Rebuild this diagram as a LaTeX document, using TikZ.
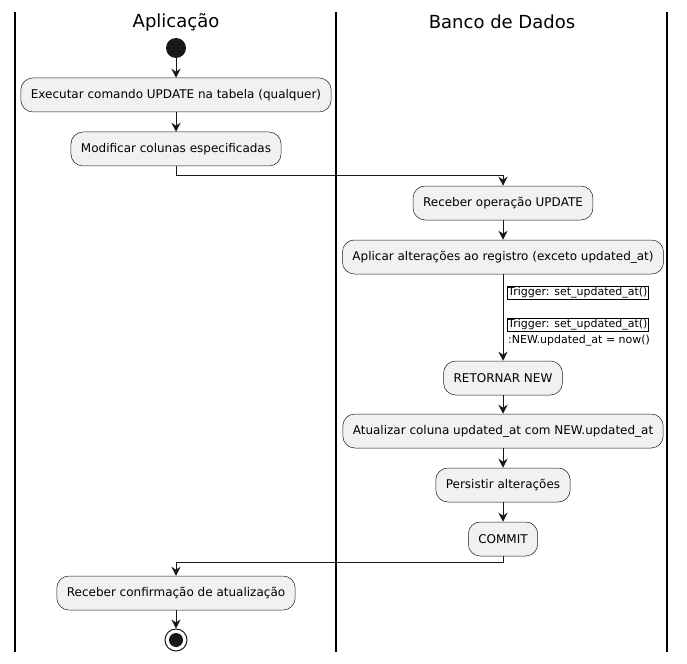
\documentclass[tikz,border=0pt]{standalone}
\usepackage{fontspec}
\setmainfont{DejaVu Sans}
\usetikzlibrary{arrows.meta,shapes}
\definecolor{actfill}{HTML}{F1F1F1}
\definecolor{actline}{HTML}{181818}
\newcommand{\laneTop}{12}
\newcommand{\laneBot}{652}

\begin{document}
\begin{tikzpicture}[x=1pt,y=-1pt]
            %\draw[help lines] (0,0) grid (687,663);
            \tikzset{action/.style = {draw=actline, fill=actfill, rounded corners=12pt, line width=0.5pt,
                minimum height=34pt, inner xsep=10pt, font=\fontsize{12}{14}\selectfont}}
            \tikzset{flow/.style = {-{Stealth[length=9pt,width=9pt,inset=3pt]}, line width=1pt, draw=actline}}
            \tikzset{lane/.style = {line width=1.2pt, draw=black}}
            \tikzset{lanetitle/.style = {font=\fontsize{18}{21}\selectfont}}
            \tikzset{trig/.style = {anchor=west, inner sep=1pt, font=\fontsize{11}{13}\selectfont}}
            \useasboundingbox (0,0) rectangle (687,663);
            % swimlanes
            \draw[lane] (15,\laneTop) -- (15,\laneBot);
            \draw[lane] (336,\laneTop) -- (336,\laneBot);
            \draw[lane] (667,\laneTop) -- (667,\laneBot);
            \node[lanetitle] (app) at (176,22) {Aplicação};
            \node[lanetitle] (db) at (502,22) {Banco de Dados};
            % actions
            \node[circle, fill=actline, minimum size=20pt, inner sep=0pt] (start) at (176,48) {};
            \node[action] (a1) at (176,95) {Executar comando UPDATE na tabela (qualquer)};
            \node[action] (a2) at (176,149) {Modificar colunas especificadas};
            \node[action] (b1) at (503,203) {Receber operação UPDATE};
            \node[action] (b2) at (503,257) {Aplicar alterações ao registro (exceto updated\_at)};
            \node[action] (b3) at (503,378) {RETORNAR NEW};
            \node[action] (b4) at (503,431) {Atualizar coluna updated\_at com NEW.updated\_at};
            \node[action] (b5) at (503,485) {Persistir alterações};
            \node[action] (b6) at (503,539) {COMMIT};
            \node[action] (a3) at (176,593) {Receber confirmação de atualização};
            \node[circle, draw=actline, line width=1pt, minimum size=22pt, inner sep=0pt] (stop) at (176,640) {};
            \node[circle, fill=actline, minimum size=14pt, inner sep=0pt] (stopdot) at (stop) {};
            % trigger labels
            \node[trig, draw] (t1) at (507,293) {Trigger: set\_updated\_at()};
            \node[trig, draw] (t2) at (507,325) {Trigger: set\_updated\_at()};
            \node[trig] (t3) at (507,341) {:NEW.updated\_at = now()};
            % flows
            \draw[flow] (start) -- (a1);
            \draw[flow] (a1) -- (a2);
            \draw[flow] (a2.south) -- ++(0,9) -| (b1.north);
            \draw[flow] (b1) -- (b2);
            \draw[flow] (b2) -- (b3);
            \draw[flow] (b3) -- (b4);
            \draw[flow] (b4) -- (b5);
            \draw[flow] (b5) -- (b6);
            \draw[flow] (b6.south) -- ++(0,6) -| (a3.north);
            \draw[flow] (a3) -- (stop);
        \end{tikzpicture}
\end{document}
